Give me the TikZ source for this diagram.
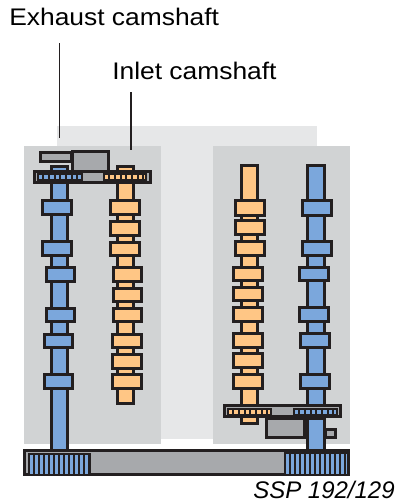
\documentclass[tikz,border=0pt]{standalone}
\usepackage{fontspec}
\setmainfont{Liberation Sans}
\newfontfamily\widefont[FakeStretch=1.1]{Liberation Sans}
\definecolor{ink}{HTML}{231F20}
\definecolor{camblue}{HTML}{7BA7DC}
\definecolor{camorange}{HTML}{FFC685}
\definecolor{partgrey}{HTML}{A7A9AC}
\definecolor{panelgrey}{HTML}{D1D3D4}
\definecolor{backgrey}{HTML}{E6E7E8}
\newcommand{\bx}[5]{\draw[part,fill=#1] ({#2+1.25},{#3+1.25}) rectangle ({#4-1.25},{#5-1.25});}
\newcommand{\lobes}[4]{\foreach \ya/\yb in {#4}{\bx{#1}{#2}{\ya}{#3}{\yb}}}
% fill, x1, y1, x2, y2, period
\newcommand{\teeth}[6]{%
 \draw[gearbox,fill=#1] ({#2+0.9},{#3+0.9}) rectangle ({#4-0.9},{#5-0.9});
 \pgfmathsetmacro{\xs}{#2+#6+0.5}
 \pgfmathsetmacro{\xn}{#2+2*#6+0.5}
 \pgfmathsetmacro{\xe}{#4-2}
 \foreach \t in {\xs,\xn,...,\xe}{\draw[geartooth] (\t,#3+1) -- (\t,#5-1);}}
\tikzset{x=0.75pt,y=-0.75pt,
 part/.style={draw=ink,line width=1.9pt,line join=miter},
 gearbox/.style={draw=ink,line width=1.4pt},
 geartooth/.style={draw=ink,line width=1.5pt},
 leader/.style={draw=ink,line width=0.9pt},
 label/.style={inner sep=0pt,anchor=base west,text=black,font=\fontsize{18pt}{21pt}\widefont}}
\begin{document}
\begin{tikzpicture}
\useasboundingbox (0,0) rectangle (399,504);
% panels
\fill[backgrey] (57,126) rectangle (317,439);
\fill[panelgrey] (24,146) rectangle (161,444);
\fill[panelgrey] (213,146) rectangle (350,444);
% labels and leaders
\node[label] (exhaust) at (9,25) {Exhaust camshaft};
\node[label] (inlet) at (112,79) {Inlet camshaft};
\coordinate (exhauststart) at (59.5,43);
\coordinate (exhaustend) at (59.5,138);
\coordinate (inletstart) at (131,92);
\coordinate (inletend) at (131,150);
\draw[leader] (exhauststart) -- (exhaustend);
\draw[leader] (inletstart) -- (inletend);
% left head, upper gear set
\bx{partgrey}{39}{151}{73}{163}
\bx{partgrey}{71}{150}{110}{173}
\bx{camblue}{50}{165}{69}{453}
\bx{camorange}{116}{165}{135}{405}
\bx{partgrey}{33}{170}{152}{184}
\teeth{camblue}{37}{173}{83}{181}{5.7}
\teeth{camorange}{103}{173}{147}{181}{5.7}
\lobes{camblue}{41}{73}{199/216,240/257}
\lobes{camblue}{45}{76}{266/283,307/323}
\lobes{camblue}{43}{74}{333/349,373/390}
\lobes{camorange}{109}{141}{199/216,220/237,241/257}
\lobes{camorange}{112}{143}{266/283,287/303,307/323}
\lobes{camorange}{111}{143}{333/349,353/370,373/390}
% right head
\bx{partgrey}{265}{417}{306}{439}
\bx{partgrey}{324}{428}{337}{439}
\bx{camorange}{240}{164}{259}{425}
\bx{camblue}{306}{164}{326}{453}
\bx{partgrey}{223}{404}{342}{418}
\teeth{camorange}{227}{408}{272}{416}{5.7}
\teeth{camblue}{293}{408}{338}{416}{5.7}
\bx{camblue}{306}{417}{326}{453}
\lobes{camorange}{234}{266}{199/217,219/236,240/257}
\lobes{camorange}{232}{264}{266/282,286/302,306/323,332/349,352/369,373/390}
\lobes{camblue}{301}{333}{199/217,240/257}
\lobes{camblue}{298}{330}{266/282,306/323}
\lobes{camblue}{299}{331}{332/349,373/390}
% bottom chain case
\bx{partgrey}{23}{449}{350}{476}
\teeth{camblue}{28}{453}{91}{476}{5}
\teeth{camblue}{284}{452}{349}{476}{5}
\node[label,font=\fontsize{18pt}{21pt}\rmfamily\itshape] (ssp) at (253,498) {SSP 192/129};
\end{tikzpicture}
\end{document}
